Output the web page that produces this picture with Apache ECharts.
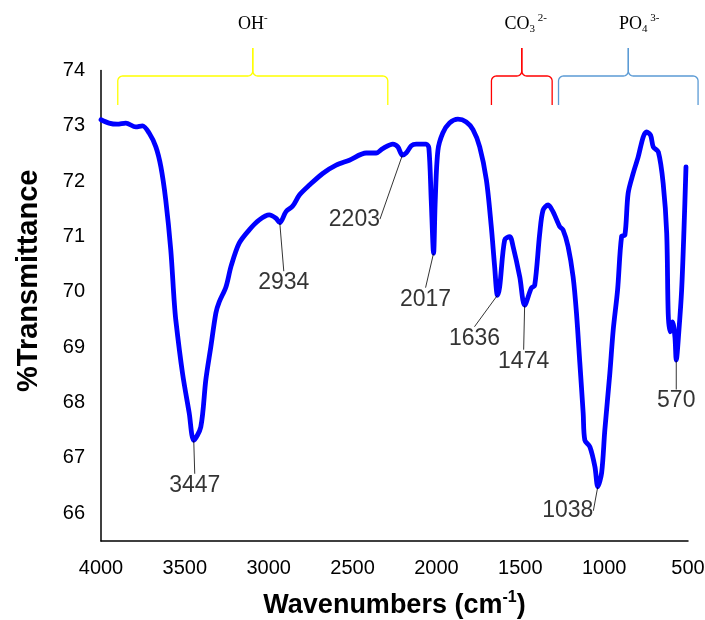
<!DOCTYPE html>
<html>
<head>
<meta charset="utf-8">
<script src="https://cdn.jsdelivr.net/npm/echarts@6/dist/echarts.min.js"></script>
<style>
  html, body { margin: 0; padding: 0; background: #fff; }
  #chart { width: 705px; height: 620px; }
</style>
</head>
<body>
<div id="chart"></div>
<script>
// FTIR spectrum: wavenumber (cm-1) and % transmittance
const wavenumbers = [
  4000, 3952, 3904, 3852, 3793, 3753, 3713, 3673, 3643, 3614, 3584, 3564, 3554, 3514, 3474, 3447,
  3405, 3375, 3345, 3315, 3295, 3255, 3224, 3176, 3116, 3056, 2997, 2957, 2934, 2897, 2857, 2817,
  2757, 2678, 2598, 2519, 2419, 2359, 2320, 2260, 2230, 2203, 2180, 2150, 2120, 2061, 2045, 2031,
  2017, 2007, 1991, 1962, 1922, 1872, 1822, 1782, 1742, 1702, 1673, 1653, 1636, 1623, 1593, 1563,
  1543, 1503, 1474, 1434, 1414, 1384, 1364, 1334, 1305, 1265, 1245, 1215, 1185, 1165, 1145, 1125,
  1115, 1085, 1055, 1038, 1015, 996, 966, 946, 920, 896, 876, 857, 827, 797, 767, 747,
  723, 707, 677, 648, 627, 618, 608, 592, 578, 570, 554, 538, 524, 512
];
const transmittance = [
  73.11, 73.05, 73.03, 73.05, 72.98, 73.00, 72.87, 72.62, 72.26, 71.66, 70.76, 69.85, 69.49, 68.53, 67.81, 67.32,
  67.56, 68.41, 69.01, 69.62, 69.82, 70.09, 70.47, 70.88, 71.12, 71.30, 71.39, 71.33, 71.25, 71.45, 71.55, 71.75,
  71.93, 72.14, 72.29, 72.38, 72.51, 72.51, 72.59, 72.67, 72.62, 72.47, 72.51, 72.64, 72.67, 72.67, 72.60, 71.66,
  70.70, 71.66, 72.56, 72.87, 73.05, 73.12, 73.07, 72.93, 72.62, 72.02, 71.18, 70.46, 69.94, 70.09, 70.94, 71.00,
  70.82, 70.27, 69.76, 70.07, 70.12, 71.06, 71.48, 71.57, 71.45, 71.18, 71.12, 70.82, 70.27, 69.62, 68.72, 67.81,
  67.32, 67.20, 66.84, 66.48, 66.73, 67.50, 68.53, 69.31, 70.03, 71.00, 71.03, 71.78, 72.14, 72.44, 72.80, 72.89,
  72.83, 72.62, 72.53, 71.96, 71.06, 69.61, 69.28, 69.46, 69.19, 68.77, 69.31, 70.03, 71.12, 72.26
];

// Labelled absorption bands
const peakWavenumbers = [3447, 2934, 2203, 2017, 1636, 1474, 1038, 570];
// Label offsets from each band minimum, in pixels
const peakLabelOffsets = [[1, 45], [4, 60], [-48, 64], [-8, 46], [-23, 43], [-1, 56], [-30, 24], [0, 41]];

// Axis ticks
const xTickInterval = 500;
const xRange = [500, 4000];
const yRange = [65.5, 74];
const yTickValues = [66, 67, 68, 69, 70, 71, 72, 73, 74];

// Functional-group brackets (wavenumber span) above the plot
const groupNames = ['OH', 'CO3', 'PO4'];
const groupRanges = [[3900, 2290], [1672, 1310], [1272, 440]];
const groupColors = ['#FFFF00', '#FF0000', '#5B9BD5'];
const groupTexts = ['OH{sup|-}', 'CO{sub|3}{sup| 2-}', 'PO{sub|4}{sup| 3-}'];
const groupTextShift = [0, 4, 11];

const sansFont = '"Liberation Sans", Arial, Helvetica, sans-serif';
const serifFont = '"Liberation Serif", "Times New Roman", serif';

const spectrum = wavenumbers.map((w, i) => [w, transmittance[i]]);
const peaks = peakWavenumbers.map(w => [w, transmittance[wavenumbers.indexOf(w)]]);

const chart = echarts.init(document.getElementById('chart'), null, { renderer: 'canvas' });

const option = {
  animation: false,
  backgroundColor: '#fff',
  grid: { left: 101, right: 17, top: 70.5, bottom: 79, containLabel: false, outerBoundsMode: 'none' },
  xAxis: {
    type: 'value',
    min: xRange[0],
    max: xRange[1],
    interval: xTickInterval,
    inverse: true,
    axisLine: { onZero: false, lineStyle: { color: '#000', width: 1.5 } },
    axisTick: { show: false },
    splitLine: { show: false },
    axisLabel: { color: '#000', fontSize: 20, margin: 17, fontFamily: sansFont, formatter: v => String(v) },
    name: '{t|Wavenumbers (cm}{sup|-1}{t|)}',
    nameLocation: 'middle',
    nameGap: 49,
    nameTextStyle: {
      rich: {
        t: { fontSize: 27, fontWeight: 'bold', color: '#000', fontFamily: sansFont, lineHeight: 31 },
        sup: { fontSize: 16, fontWeight: 'bold', color: '#000', fontFamily: sansFont, verticalAlign: 'top', lineHeight: 31 }
      }
    }
  },
  yAxis: {
    type: 'value',
    min: yRange[0],
    max: yRange[1],
    axisLine: { show: true, onZero: false, lineStyle: { color: '#000', width: 1.5 } },
    axisTick: { show: false },
    splitLine: { show: false },
    axisLabel: { color: '#000', fontSize: 20, margin: 16, fontFamily: sansFont, customValues: yTickValues },
    name: '%Transmittance',
    nameLocation: 'middle',
    nameGap: 58,
    nameTextStyle: { fontSize: 29, fontWeight: 'bold', color: '#000', fontFamily: sansFont, padding: [0, 0, 0, 50] }
  },
  series: [
    {
      type: 'line',
      data: spectrum,
      showSymbol: false,
      smooth: 0.3,
      lineStyle: { color: '#0000FF', width: 4.8, cap: 'round', join: 'round' },
      z: 2
    },
    {
      type: 'scatter',
      data: peaks,
      symbolSize: 1,
      itemStyle: { color: 'rgba(0,0,0,0)' },
      label: {
        show: true,
        position: 'inside',
        formatter: p => String(p.value[0]),
        color: '#000',
        fontSize: 23,
        fontFamily: sansFont
      },
      labelLine: { show: true, lineStyle: { color: '#000', width: 0.8 } },
      labelLayout: p => ({ dx: peakLabelOffsets[p.dataIndex][0], dy: peakLabelOffsets[p.dataIndex][1] }),
      z: 3
    }
  ]
};

chart.setOption(option);

// Quarter-arc points between two angles (degrees) around a centre
function arcPoints(cx, cy, r, a0, a1) {
  const pts = [];
  const n = 8;
  for (let k = 0; k <= n; k++) {
    const a = (a0 + (a1 - a0) * k / n) * Math.PI / 180;
    pts.push([cx + r * Math.cos(a), cy + r * Math.sin(a)]);
  }
  return pts;
}

// Curly bracket drawn as two polylines meeting at the central tip
function braceHalves(x0, x1, yTip, yBar, yEnd) {
  const xm = (x0 + x1) / 2;
  const r = 5;
  const left = [[x0, yEnd]]
    .concat(arcPoints(x0 + r, yBar + r, r, 180, 270))
    .concat(arcPoints(xm - r, yBar - r, r, 90, 0))
    .concat([[xm, yTip]]);
  const right = [[xm, yTip]]
    .concat(arcPoints(xm + r, yBar - r, r, 180, 90))
    .concat(arcPoints(x1 - r, yBar + r, r, 270, 360))
    .concat([[x1, yEnd]]);
  return [left, right];
}

const graphics = [];
groupRanges.forEach((range, i) => {
  const x0 = chart.convertToPixel({ xAxisIndex: 0 }, range[0]);
  const x1 = chart.convertToPixel({ xAxisIndex: 0 }, range[1]);
  const xm = (x0 + x1) / 2;
  braceHalves(x0, x1, 48, 76, 105).forEach(points => {
    graphics.push({
      type: 'polyline',
      shape: { points: points },
      style: { stroke: groupColors[i], fill: null, lineWidth: 1.3 }
    });
  });
  graphics.push({
    type: 'text',
    name: groupNames[i],
    x: xm + groupTextShift[i],
    y: 24,
    style: {
      text: groupTexts[i],
      align: 'center',
      verticalAlign: 'middle',
      fill: '#000',
      font: '18px ' + serifFont,
      rich: {
        sup: { fontSize: 11, fontFamily: serifFont, verticalAlign: 'top', lineHeight: 22, fill: '#000' },
        sub: { fontSize: 11, fontFamily: serifFont, verticalAlign: 'bottom', lineHeight: 22, fill: '#000' }
      }
    }
  });
});
chart.setOption({ graphic: { elements: graphics } });
</script>
</body>
</html>
